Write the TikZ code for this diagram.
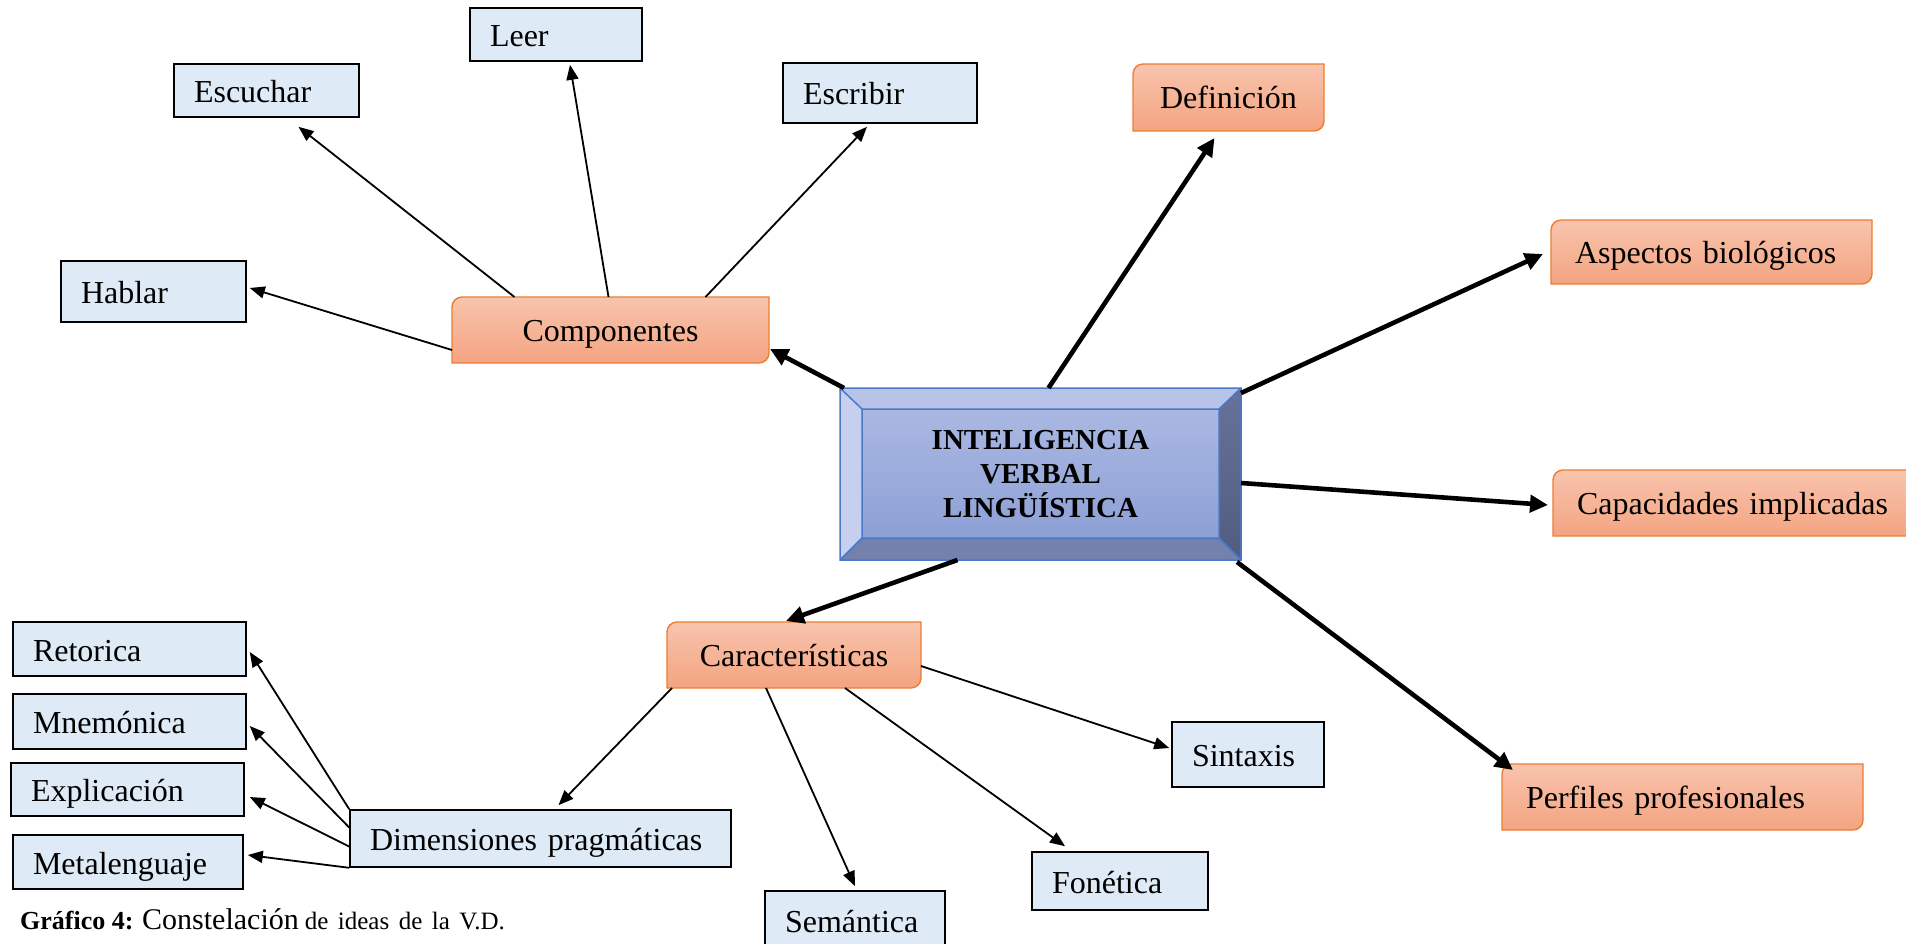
\documentclass[tikz,border=0pt]{standalone}
\usepackage{fontspec}
\setmainfont{Liberation Serif}
\usetikzlibrary{arrows.meta,backgrounds}

\definecolor{leafblue}{HTML}{DEEAF6}
\definecolor{orgtop}{HTML}{F8C4AD}
\definecolor{orgbot}{HTML}{F4A481}
\definecolor{orgline}{HTML}{ED7D31}
\definecolor{bevline}{HTML}{4A78C8}
\definecolor{bevleft}{HTML}{C6D0EE}
\definecolor{bevtop}{HTML}{B7C4E7}
\definecolor{bevrighttop}{HTML}{66729A}
\definecolor{bevrightbot}{HTML}{515C80}
\definecolor{bevbottom}{HTML}{7282AD}
\definecolor{facetop}{HTML}{AAB8E2}
\definecolor{facebot}{HTML}{8DA0D6}

\begin{document}
\begin{tikzpicture}[x=1pt, y=-1pt,
  leaf/.style={draw, line width=1.6pt, fill=leafblue, align=left,
    inner xsep=20pt, inner ysep=0pt, text height=28pt, text depth=4pt,
    font=\fontsize{32}{38}\selectfont},
  hub/.style={inner xsep=24pt, inner ysep=0pt, outer sep=0pt,
    text height=27pt, text depth=5pt, font=\fontsize{32}{38}\selectfont},
  link/.style={line width=1.8pt, -{Triangle[length=15pt,width=12pt]}},
  spoke/.style={line width=4.6pt, -{Triangle[length=18pt,width=17pt]}}]

\useasboundingbox (0,0) rectangle (1906,944);

% Central node
\node[font=\bfseries\fontsize{29}{34}\selectfont, align=center,
  minimum width=401pt, minimum height=172pt, inner sep=0pt, outer sep=0pt]
  (ivl) at (1040.5,474) {INTELIGENCIA\\VERBAL\\LINGÜÍSTICA};

% Orange nodes
\node[hub, text width=269pt, align=center, minimum height=66pt] (comp) at (610.5,330) {Componentes};
\node[hub, text width=143pt, align=center, minimum height=67pt] (defin) at (1228.5,97.5) {Definición};
\node[hub, text width=273pt, align=left, minimum height=64pt] (aspect) at (1711.5,252) {Aspectos biológicos};
\node[hub, text width=322pt, align=left, minimum height=66pt] (capac) at (1738,503) {Capacidades implicadas};
\node[hub, text width=313pt, align=left, minimum height=66pt] (perfil) at (1682.5,797) {Perfiles profesionales};
\node[hub, text width=206pt, align=center, minimum height=66pt] (caract) at (794,655) {Características};

% Blue nodes
\node[leaf, text width=132pt, minimum height=53pt] (leer) at (556,34.5) {Leer};
\node[leaf, text width=145pt, minimum height=53pt] (escuchar) at (266.5,90.5) {Escuchar};
\node[leaf, text width=154pt, minimum height=60pt] (escribir) at (880,93) {Escribir};
\node[leaf, text width=145pt, minimum height=61pt] (hablar) at (153.5,291.5) {Hablar};
\node[leaf, text width=112pt, minimum height=65pt] (sintax) at (1248,754.5) {Sintaxis};
\node[leaf, text width=136pt, minimum height=58pt] (fonet) at (1120,881) {Fonética};
\node[leaf, text width=140pt, minimum height=58pt] (seman) at (855,920) {Semántica};
\node[leaf, text width=341pt, minimum height=57pt] (dimen) at (540.5,838.5) {Dimensiones pragmáticas};
\node[leaf, text width=193pt, minimum height=54pt] (retor) at (129.5,649) {Retorica};
\node[leaf, text width=193pt, minimum height=55pt] (mnemo) at (129.5,721.5) {Mnemónica};
\node[leaf, text width=193pt, minimum height=53pt] (explic) at (127.5,789.5) {Explicación};
\node[leaf, text width=190pt, minimum height=54pt] (metal) at (128,862) {Metalenguaje};

% Caption
\node[anchor=base west, inner sep=0pt] (capt) at (20,929)
  {\fontsize{26}{30}\selectfont\textbf{Gráfico 4:} \fontsize{30}{32}\selectfont Constelación\hspace{6pt}\fontsize{25}{28}\selectfont\makebox[200pt][s]{de ideas de la V.D.}};

\begin{pgfonlayer}{background}
% Bevelled central box
\coordinate (inw) at ([shift={(22pt,-21pt)}]ivl.north west);
\coordinate (ine) at ([shift={(-22pt,-21pt)}]ivl.north east);
\coordinate (ise) at ([shift={(-22pt,22pt)}]ivl.south east);
\coordinate (isw) at ([shift={(22pt,22pt)}]ivl.south west);
\fill[bevleft] (ivl.north west) -- (inw) -- (isw) -- (ivl.south west) -- cycle;
\fill[bevtop] (ivl.north west) -- (ivl.north east) -- (ine) -- (inw) -- cycle;
\shade[top color=bevrighttop, bottom color=bevrightbot] (ivl.north east) -- (ivl.south east) -- (ise) -- (ine) -- cycle;
\fill[bevbottom] (ivl.south west) -- (isw) -- (ise) -- (ivl.south east) -- cycle;
\shade[top color=facetop, bottom color=facebot] (inw) rectangle (ise);
\draw[bevline, line width=1.5pt] (ivl.north west) rectangle (ivl.south east)
  (inw) rectangle (ise)
  (ivl.north west) -- (inw) (ivl.north east) -- (ine)
  (ivl.south east) -- (ise) (ivl.south west) -- (isw);

% Orange boxes with two rounded corners
\foreach \n in {comp,defin,aspect,capac,perfil,caract}
  \shadedraw[top color=orgtop, bottom color=orgbot, draw=orgline, line width=1.4pt]
    (\n.west) [rounded corners=10pt] -- (\n.north west) -- (\n.north)
    [sharp corners] -- (\n.north east) -- (\n.east)
    [rounded corners=10pt] -- (\n.south east) -- (\n.south)
    [sharp corners] -- (\n.south west) -- cycle;
\end{pgfonlayer}

% Componentes
\draw[link] ([yshift=-20pt]comp.west) -- ([xshift=3pt,yshift=3.5pt]hablar.east);
\draw[link] ([xshift=-96pt]comp.north) -- ([xshift=32pt,yshift=-9pt]escuchar.south);
\draw[link] ([xshift=-2pt]comp.north) -- ([xshift=14pt,yshift=-3pt]leer.south);
\draw[link] ([xshift=95pt]comp.north) -- ([xshift=-13pt,yshift=-3pt]escribir.south);

% Central spokes
\draw[spoke] ([xshift=4pt]ivl.north west) -- ([xshift=1pt,yshift=14pt]comp.south east);
\draw[spoke] ([xshift=8pt]ivl.north) -- ([xshift=-14pt,yshift=-7pt]defin.south);
\draw[spoke] ([yshift=-5pt]ivl.north east) -- ([xshift=-8pt,yshift=-2pt]aspect.west);
\draw[spoke] ([yshift=-9pt]ivl.east) -- ([xshift=-5pt,yshift=-2pt]capac.west);
\draw[spoke] ([xshift=-4pt,yshift=-2pt]ivl.south east) -- ([xshift=11pt,yshift=-6pt]perfil.north west);
\draw[spoke] ([xshift=-83pt]ivl.south) -- ([xshift=-8pt,yshift=1pt]caract.north);

% Caracteristicas
\draw[link] ([xshift=5pt]caract.south west) -- ([xshift=18pt,yshift=4pt]dimen.north);
\draw[link] ([xshift=-28pt]caract.south) -- ([yshift=4pt]seman.north);
\draw[link] ([xshift=51pt]caract.south) -- ([xshift=-55pt,yshift=5pt]fonet.north);
\draw[link] ([yshift=-11pt]caract.east) -- ([xshift=-2pt,yshift=6.5pt]sintax.west);

% Dimensiones pragmaticas
\draw[link] (dimen.north west) -- ([xshift=3pt,yshift=-3pt]retor.east);
\draw[link] ([yshift=11pt]dimen.west) -- ([xshift=3pt,yshift=-4.5pt]mnemo.east);
\draw[link] ([yshift=-8pt]dimen.west) -- ([xshift=5pt,yshift=-7.5pt]explic.east);
\draw[link] (dimen.south west) -- ([xshift=4pt,yshift=7pt]metal.east);

\end{tikzpicture}
\end{document}
